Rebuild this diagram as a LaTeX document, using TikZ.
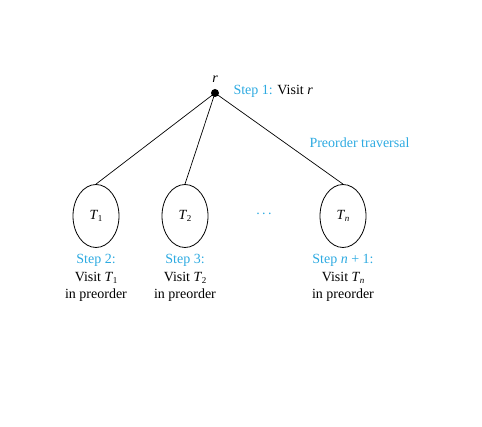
\documentclass[tikz,border=0pt]{standalone}
\usepackage{fontspec}
\setmainfont{Liberation Serif}
\usetikzlibrary{shapes.geometric}
\definecolor{stepblue}{RGB}{45,170,225}
\newcommand\Tsb[1]{\textit{T}\kern-0.5pt\raisebox{-0.4ex}{\small #1}}
\begin{document}
\begin{tikzpicture}[x=1pt,y=-1pt,
  lbl/.style={font=\fontsize{14}{17.5}\selectfont,align=center},
  sub/.style={lbl,draw,ellipse,minimum width=46pt,minimum height=63pt,inner sep=0pt,line width=0.8pt},
  conn/.style={line width=0.7pt}]
\useasboundingbox (0,0) rectangle (482,427);
\fill (215,93) circle (4pt) coordinate (r);
\node[lbl,anchor=south] (rl) at (215,86) {\textit{r}};
\node[lbl,anchor=west] (s1) at (230,91) {\textcolor{stepblue}{Step 1:} Visit \textit{r}};
\node[lbl,anchor=west,text=stepblue] (pt) at (306,143) {Preorder traversal};
\node[sub] (t1) at (96,216) {\Tsb{1}};
\node[sub] (t2) at (185,216) {\Tsb{2}};
\node[sub] (tn) at (343,216) {\Tsb{\textit{n}}};
\node[lbl,text=stepblue] (dots) at (264,214) {.\,.\,.};
\draw[conn] (r) -- (t1.north);
\draw[conn] (r) -- (t2.north);
\draw[conn] (r) -- (tn.north);
\node[lbl,anchor=north] (l1) at (96,251) {\textcolor{stepblue}{Step 2:}\\Visit \Tsb{1}\\in preorder};
\node[lbl,anchor=north] (l2) at (185,251) {\textcolor{stepblue}{Step 3:}\\Visit \Tsb{2}\\in preorder};
\node[lbl,anchor=north] (ln) at (343,251) {\textcolor{stepblue}{Step \textit{n} + 1:}\\Visit \Tsb{\textit{n}}\\in preorder};
\end{tikzpicture}
\end{document}
